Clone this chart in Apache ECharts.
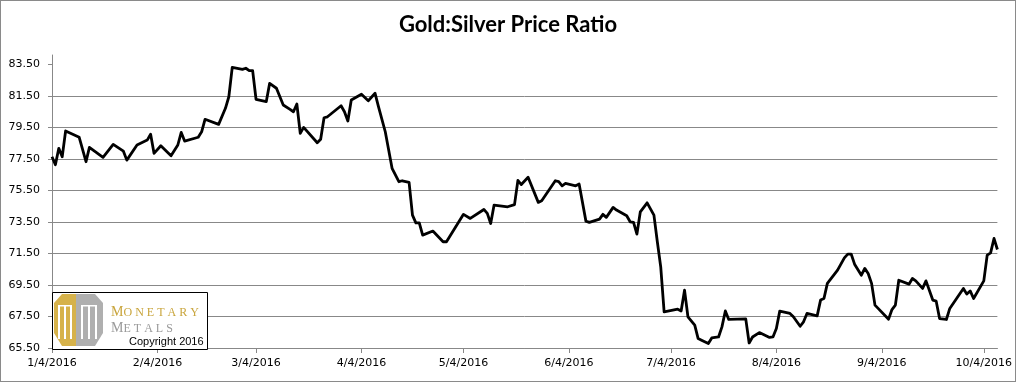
<!DOCTYPE html>
<html><head><meta charset="utf-8">
<script src="https://cdn.jsdelivr.net/npm/echarts@6/dist/echarts.min.js"></script>
<style>
html,body{margin:0;padding:0;background:#fff;}
#frame{position:absolute;left:0;top:0;width:1016px;height:382px;box-sizing:border-box;border:1px solid #8a8a8a;overflow:hidden;background:#fff;}
#chart{width:1014px;height:380px;}
</style></head><body>
<div id="frame"><div id="chart"></div></div>
<script>
const dates = [
'2016-01-04','2016-01-05','2016-01-06','2016-01-07','2016-01-08','2016-01-12','2016-01-14','2016-01-15','2016-01-19','2016-01-22',
'2016-01-25','2016-01-26','2016-01-29','2016-02-01','2016-02-02','2016-02-03','2016-02-05','2016-02-08','2016-02-10','2016-02-11',
'2016-02-12','2016-02-16','2016-02-17','2016-02-18','2016-02-22','2016-02-24','2016-02-25','2016-02-26','2016-02-29','2016-03-01',
'2016-03-02','2016-03-03','2016-03-04','2016-03-07','2016-03-08','2016-03-10','2016-03-12','2016-03-14','2016-03-15','2016-03-16',
'2016-03-17','2016-03-18','2016-03-22','2016-03-23','2016-03-24','2016-03-25','2016-03-29','2016-03-30','2016-03-31','2016-04-01',
'2016-04-04','2016-04-06','2016-04-08','2016-04-09','2016-04-11','2016-04-13','2016-04-15','2016-04-16','2016-04-18','2016-04-19',
'2016-04-20','2016-04-21','2016-04-22','2016-04-25','2016-04-28','2016-04-29','2016-05-04','2016-05-06','2016-05-10','2016-05-11',
'2016-05-12','2016-05-13','2016-05-17','2016-05-19','2016-05-20','2016-05-21','2016-05-23','2016-05-26','2016-05-27','2016-05-31',
'2016-06-01','2016-06-02','2016-06-03','2016-06-06','2016-06-07','2016-06-09','2016-06-10','2016-06-13','2016-06-14','2016-06-15',
'2016-06-17','2016-06-18','2016-06-21','2016-06-22','2016-06-23','2016-06-24','2016-06-25','2016-06-27','2016-06-29','2016-06-30',
'2016-07-01','2016-07-02','2016-07-06','2016-07-07','2016-07-08','2016-07-09','2016-07-11','2016-07-12','2016-07-13','2016-07-15',
'2016-07-16','2016-07-18','2016-07-19','2016-07-20','2016-07-21','2016-07-26','2016-07-27','2016-07-28','2016-07-30','2016-08-02',
'2016-08-03','2016-08-04','2016-08-05','2016-08-08','2016-08-09','2016-08-11','2016-08-12','2016-08-13','2016-08-16','2016-08-17',
'2016-08-18','2016-08-19','2016-08-22','2016-08-24','2016-08-25','2016-08-26','2016-08-27','2016-08-29','2016-08-30','2016-08-31',
'2016-09-01','2016-09-02','2016-09-06','2016-09-07','2016-09-08','2016-09-09','2016-09-12','2016-09-13','2016-09-14','2016-09-16',
'2016-09-17','2016-09-19','2016-09-20','2016-09-21','2016-09-23','2016-09-24','2016-09-26','2016-09-28','2016-09-29','2016-09-30',
'2016-10-01','2016-10-04','2016-10-05','2016-10-06','2016-10-07','2016-10-08'
];
const ratios = [
77.63,77.13,78.17,77.63,79.27,78.87,77.32,78.23,77.60,78.42,
77.99,77.42,78.38,78.69,79.06,77.85,78.33,77.70,78.38,79.18,
78.63,78.87,79.22,80.01,79.69,80.71,81.44,83.31,83.18,83.25,
83.10,83.10,81.28,81.13,82.29,81.98,80.92,80.64,80.49,80.98,
79.12,79.50,78.52,78.74,80.11,80.17,80.87,80.49,79.90,81.23,
81.60,81.19,81.66,80.81,79.22,76.90,76.05,76.11,76.01,73.93,
73.44,73.44,72.66,72.92,72.24,72.24,73.98,73.72,74.29,74.04,
73.40,74.57,74.46,74.60,76.13,75.87,76.33,74.74,74.84,76.11,
76.05,75.79,75.94,75.79,75.90,73.55,73.47,73.68,73.98,73.79,
74.42,74.25,73.89,73.51,73.47,72.73,74.14,74.71,73.93,72.24,
70.65,67.79,67.96,67.85,69.17,67.48,66.95,66.10,65.99,65.78,
66.14,66.20,66.84,67.85,67.31,67.35,65.82,66.20,66.48,66.17,
66.20,66.74,67.84,67.69,67.48,66.88,67.16,67.69,67.54,68.54,
68.64,69.60,70.44,71.22,71.46,71.46,70.82,70.12,70.55,70.23,
69.60,68.22,67.33,67.94,68.22,69.80,69.55,69.91,69.76,69.28,
69.76,68.54,68.47,67.37,67.31,68.01,68.64,69.28,68.92,69.12,
68.64,69.76,71.39,71.54,72.45,71.75
];
const yTicks = [65.5, 67.5, 69.5, 71.5, 73.5, 75.5, 77.5, 79.5, 81.5, 83.5];
const xTickDates = ['2016-01-04','2016-02-04','2016-03-04','2016-04-04','2016-05-04','2016-06-04','2016-07-04','2016-08-04','2016-09-04','2016-10-04'];
const xMin = '2016-01-04';
const xMax = '2016-10-08';
const yMin = 65.5;
const yMax = 84.09;
const titleText = 'Gold:Silver Price Ratio';

function toTs(s) { const p = s.split('-').map(Number); return new Date(p[0], p[1] - 1, p[2]).getTime(); }
function fmtDate(v) { const d = new Date(v); return (d.getMonth() + 1) + '/' + d.getDate() + '/' + d.getFullYear(); }

const chart = echarts.init(document.getElementById('chart'), null, {renderer: 'canvas'});
const gridColor = '#888888';
const gold = '#D6B24A';
const grey = '#AFAFAF';

chart.setOption({
  animation: false,
  backgroundColor: '#fff',
  title: {
    text: titleText, left: 'center', top: 8,
    textStyle: {fontFamily: 'Lato', fontWeight: 'bold', fontSize: 22, color: '#000'}
  },
  grid: {left: 51, right: 13, top: 54, bottom: 33, containLabel: false},
  xAxis: {
    type: 'value', min: toTs(xMin), max: toTs(xMax),
    axisLine: {show: true, lineStyle: {color: gridColor, width: 1}},
    axisTick: {show: true, length: 5, lineStyle: {color: gridColor}, customValues: xTickDates.map(toTs)},
    axisLabel: {customValues: xTickDates.map(toTs), formatter: v => fmtDate(v), fontFamily: 'DejaVu Sans', fontSize: 11, color: '#000', margin: 10, hideOverlap: false},
    splitLine: {show: false}, minorTick: {show: false}
  },
  yAxis: {
    type: 'value', min: yMin, max: yMax,
    axisLine: {show: true, lineStyle: {color: gridColor, width: 1}},
    axisTick: {show: true, length: 4, lineStyle: {color: gridColor}, customValues: yTicks},
    axisLabel: {customValues: yTicks, formatter: v => v.toFixed(2), fontFamily: 'DejaVu Sans', fontSize: 11, color: '#000', margin: 12},
    splitLine: {show: true, showMaxLine: false, lineStyle: {color: gridColor, width: 1}}
  },
  series: [{
    type: 'line', name: 'Gold:Silver',
    data: dates.map((d, i) => [toTs(d), ratios[i]]),
    showSymbol: false, symbol: 'none',
    lineStyle: {color: '#000', width: 2.8, join: 'round'},
    z: 5
  }],
  graphic: [
    {type: 'rect', z: 100, shape: {x: 51.5, y: 291.5, width: 155, height: 57}, style: {fill: '#fff', stroke: '#000', lineWidth: 1}},
    {type: 'polygon', z: 101, shape: {points: [[61,293],[75,293],[75,345],[61,345],[53,332],[53,302]]}, style: {fill: gold}},
    {type: 'polygon', z: 101, shape: {points: [[75,293],[94,293],[102,302],[102,332],[94,345],[75,345]]}, style: {fill: grey}},
    {type: 'rect', z: 102, shape: {x: 57, y: 304, width: 2, height: 34}, style: {fill: '#fff'}},
    {type: 'rect', z: 102, shape: {x: 63, y: 304, width: 2, height: 34}, style: {fill: '#fff'}},
    {type: 'rect', z: 102, shape: {x: 69, y: 304, width: 2, height: 34}, style: {fill: '#fff'}},
    {type: 'rect', z: 102, shape: {x: 57, y: 304, width: 14, height: 1.5}, style: {fill: '#fff'}},
    {type: 'rect', z: 102, shape: {x: 80, y: 304, width: 2, height: 34}, style: {fill: '#fff'}},
    {type: 'rect', z: 102, shape: {x: 87, y: 304, width: 2, height: 34}, style: {fill: '#fff'}},
    {type: 'rect', z: 102, shape: {x: 94, y: 304, width: 2, height: 34}, style: {fill: '#fff'}},
    {type: 'rect', z: 102, shape: {x: 80, y: 304, width: 16, height: 1.5}, style: {fill: '#fff'}},
    {type: 'text', z: 103, style: {text: 'M', x: 110, y: 311.0, verticalAlign: 'middle', font: '14px "Liberation Serif"', fill: '#C9A53C'}},
    {type: 'text', z: 103, style: {text: 'O N E T A R Y', x: 122.5, y: 311.65, verticalAlign: 'middle', font: '12px "Liberation Serif"', fill: '#C9A53C'}},
    {type: 'text', z: 103, style: {text: 'M', x: 110, y: 327.0, verticalAlign: 'middle', font: '14px "Liberation Serif"', fill: '#9A9A9A'}},
    {type: 'text', z: 103, style: {text: 'E T A L S', x: 122.5, y: 327.65, verticalAlign: 'middle', font: '12px "Liberation Serif"', fill: '#9A9A9A'}},
    {type: 'text', z: 103, style: {text: 'Copyright 2016', x: 128, y: 340.7, verticalAlign: 'middle', font: '11px "Liberation Sans"', fill: '#000'}}
  ]
});
</script>
</body></html>
